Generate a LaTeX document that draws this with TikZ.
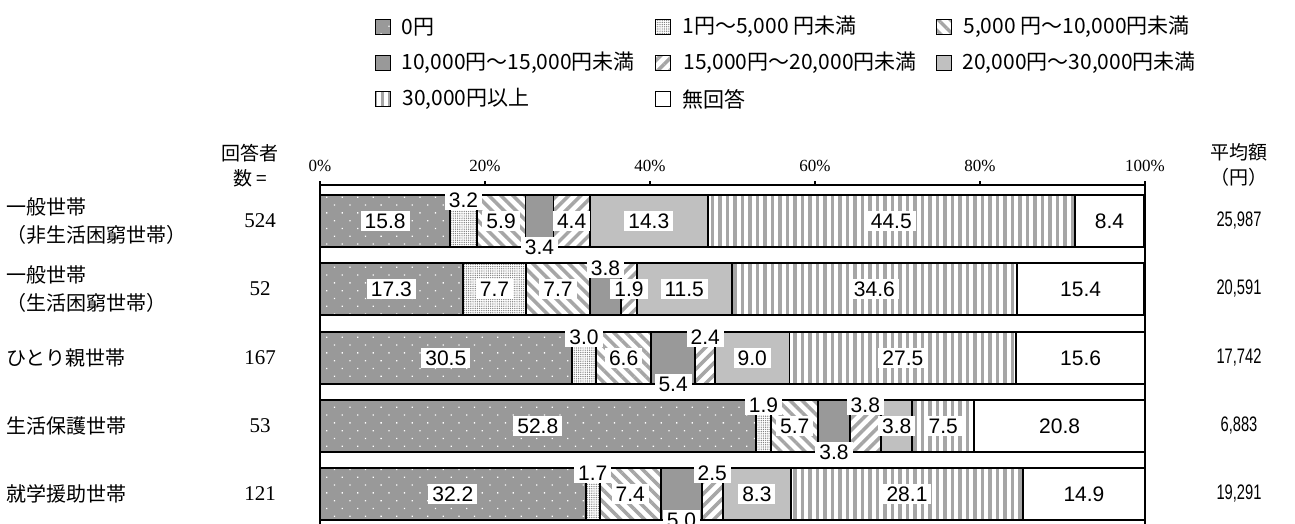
\documentclass[tikz,border=0pt]{standalone}
\usepackage{fontspec}
\setmainfont{Liberation Serif}
\newfontfamily\jpfont{Noto Sans CJK JP}
\newfontfamily\numfont{Liberation Sans}
\newfontfamily\narrowfont[FakeStretch=0.7]{Liberation Sans}
\usetikzlibrary{patterns.meta,positioning}

\definecolor{barmid}{RGB}{153,153,153}
\definecolor{barlight}{RGB}{192,192,192}
\definecolor{barstripe}{RGB}{166,166,166}

\tikzstyle{seg}=[draw=black,line width=1.8pt]
\tikzstyle{zero}=[seg,preaction={fill=barmid},pattern={Dots[distance=11pt,angle=45,radius=0.9pt]},pattern color=white]
\tikzstyle{lt5k}=[seg,preaction={fill=white},pattern={Dots[distance=2.2pt,radius=0.7pt]},pattern color=gray]
\tikzstyle{lt10k}=[seg,preaction={fill=white},pattern={Lines[angle=-45,distance=8.5pt,line width=3.5pt]},pattern color=barstripe]
\tikzstyle{lt15k}=[seg,fill=barmid]
\tikzstyle{lt20k}=[seg,preaction={fill=white},pattern={Lines[angle=45,distance=8.5pt,line width=3.5pt]},pattern color=barstripe]
\tikzstyle{lt30k}=[seg,fill=barlight]
\tikzstyle{ge30k}=[seg,preaction={fill=white},pattern={Lines[angle=90,distance=7.5pt,line width=3.3pt]},pattern color=barstripe]
\tikzstyle{noans}=[seg,fill=white]

\tikzstyle{val}=[font=\numfont\fontsize{21}{21}\selectfont,fill=white,inner xsep=4pt,inner ysep=2.5pt]
\tikzstyle{lc}=[]
\tikzstyle{la}=[yshift=21pt]
\tikzstyle{lb}=[yshift=-26pt]
\tikzstyle{frame}=[line width=1.8pt]
\tikzstyle{legbox}=[minimum size=15pt,inner sep=0pt,line width=2.2pt]
\tikzstyle{legtext}=[font=\jpfont\fontsize{21}{24}\selectfont,inner sep=0pt]
\tikzstyle{rowlab}=[font=\jpfont\fontsize{20}{28}\selectfont,anchor=west,align=left,inner sep=0pt]
\tikzstyle{head}=[font=\jpfont\fontsize{19}{24}\selectfont,inner sep=0pt]
\tikzstyle{axislab}=[font=\fontsize{17}{18}\selectfont,inner sep=0pt]
\tikzstyle{count}=[font=\fontsize{21}{24}\selectfont,inner sep=0pt]
\tikzstyle{avg}=[font=\narrowfont\fontsize{21}{22}\selectfont,inner sep=0pt]

% one bar: #1 row id, #2 y of the bar centre, #3 value/style/label place
\newcommand{\chartrow}[3]{%
  \foreach \pct/\sty/\pos [remember=\xb as \xa (initially 0),evaluate=\pct as \xb using {min(\xa+\pct,100)}] in {#3}
    \draw[\sty] (\xa,#2-26) rectangle (\xb,#2+26);
  \foreach \pct/\sty/\pos [remember=\xb as \xa (initially 0),evaluate=\pct as \xb using {min(\xa+\pct,100)},count=\i] in {#3}
    \node[val,\pos] (v#1-\i) at ({(\xa+\xb)/2},#2) {\pct};
}

\begin{document}
\begin{tikzpicture}[x=1pt,y=1pt]
	\useasboundingbox (0,0) rectangle (1295,524);

	% legend
	\node[legbox,zero] (k1) at (383,497) {};
	\node[legtext,right=10pt of k1] {0円};
	\node[legbox,lt5k] (k2) at (663,497) {};
	\node[legtext,right=11pt of k2] {1円～5,000 円未満};
	\node[legbox,lt10k] (k3) at (944,497) {};
	\node[legtext,right=10pt of k3] {5,000 円～10,000円未満};
	\node[legbox,lt15k] (k4) at (383,461) {};
	\node[legtext,right=10pt of k4] {10,000円～15,000円未満};
	\node[legbox,lt20k] (k5) at (663,461) {};
	\node[legtext,right=11pt of k5] {15,000円～20,000円未満};
	\node[legbox,lt30k] (k6) at (944,461) {};
	\node[legtext,right=10pt of k6] {20,000円～30,000円未満};
	\node[legbox,ge30k] (k7) at (383,425) {};
	\node[legtext,right=10pt of k7] {30,000円以上};
	\node[legbox,noans] (k8) at (663,425) {};
	\node[legtext,right=11pt of k8] {無回答};

	% headers
	\node[head] (n1) at (250,371) {回答者};
	\node[head] (n2) at (250,346) {数 =};
	\node[head] (m1) at (1239,372) {平均額};
	\node[head] (m2) at (1239,347) {（円）};

	% axis
	\draw[frame] (320,0) -- (320,339) -- (1145,339) -- (1145,0);
	\foreach \p in {0,20,...,100} {
		\draw[frame] (320+8.25*\p,339) -- ++(0,4);
		\node[axislab] (t\p) at (320+8.25*\p,358) {\p\%};
	}

	% bars
	\begin{scope}[xshift=320pt,x=8.25pt]
	\chartrow{1}{303}{15.8/zero/lc,3.2/lt5k/la,5.9/lt10k/lc,3.4/lt15k/lb,4.4/lt20k/lc,14.3/lt30k/lc,44.5/ge30k/lc,8.4/noans/lc}
	\chartrow{2}{235}{17.3/zero/lc,7.7/lt5k/lc,7.7/lt10k/lc,3.8/lt15k/la,1.9/lt20k/lc,11.5/lt30k/lc,34.6/ge30k/lc,15.4/noans/lc}
	\chartrow{3}{166}{30.5/zero/lc,3.0/lt5k/la,6.6/lt10k/lc,5.4/lt15k/lb,2.4/lt20k/la,9.0/lt30k/lc,27.5/ge30k/lc,15.6/noans/lc}
	\chartrow{4}{98}{52.8/zero/lc,1.9/lt5k/la,5.7/lt10k/lc,3.8/lt15k/lb,3.8/lt20k/la,3.8/lt30k/lc,7.5/ge30k/lc,20.8/noans/lc}
	\chartrow{5}{30}{32.2/zero/lc,1.7/lt5k/la,7.4/lt10k/lc,5.0/lt15k/lb,2.5/lt20k/la,8.3/lt30k/lc,28.1/ge30k/lc,14.9/noans/lc}
	\end{scope}

	% row labels, counts, averages
	\node[rowlab] (r1) at (6,303) {一般世帯\\（非生活困窮世帯）};
	\node[rowlab] (r2) at (6,235) {一般世帯\\（生活困窮世帯）};
	\node[rowlab] (r3) at (6,166) {ひとり親世帯};
	\node[rowlab] (r4) at (6,98) {生活保護世帯};
	\node[rowlab] (r5) at (6,30) {就学援助世帯};

	\node[count] (c1) at (260,303) {524};
	\node[count] (c2) at (260,235) {52};
	\node[count] (c3) at (260,166) {167};
	\node[count] (c4) at (260,98) {53};
	\node[count] (c5) at (260,30) {121};

	\node[avg] (a1) at (1239,303) {25,987};
	\node[avg] (a2) at (1239,235) {20,591};
	\node[avg] (a3) at (1239,166) {17,742};
	\node[avg] (a4) at (1239,98) {6,883};
	\node[avg] (a5) at (1239,30) {19,291};
\end{tikzpicture}
\end{document}
